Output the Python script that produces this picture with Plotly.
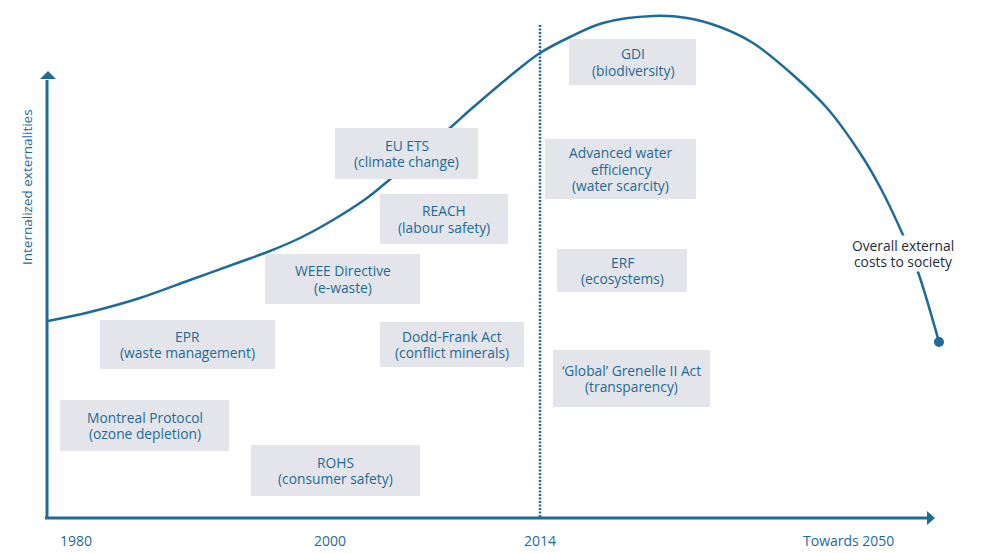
import plotly.graph_objects as go

# conceptual chart drawn on a 1000 x 553 canvas (y grows downwards)
blue = "#1d6b97"
box_fill = "#e4e5ea"
dark = "#1c2b3c"

# curve of overall external costs (x, y)
curve_x = [48, 90, 140, 190, 240, 270, 300, 333, 367, 388, 450, 470, 520, 540, 570, 603, 653,
           687, 720, 753, 793, 827, 860, 880, 903, 918, 939]
curve_y = [321, 312, 298, 280, 262, 251, 238, 220, 198, 181, 128, 110, 68, 53, 37, 23, 16,
           18, 27, 43, 75, 108, 153, 187, 235, 272, 342]

# policy boxes
box_text = [
    "Montreal Protocol<br>(ozone depletion)",
    "EPR<br>(waste management)",
    "ROHS<br>(consumer safety)",
    "WEEE Directive<br>(e-waste)",
    "Dodd-Frank Act<br>(conflict minerals)",
    "REACH<br>(labour safety)",
    "EU ETS<br>(climate change)",
    "GDI<br>(biodiversity)",
    "Advanced water<br>efficiency<br>(water scarcity)",
    "ERF<br>(ecosystems)",
    "\u2018Global\u2019 Grenelle II Act<br>(transparency)",
]
box_x0 = [60, 100, 251, 265, 380, 380, 335, 569, 545, 557, 553]
box_x1 = [229, 275, 420, 420, 524, 508, 478, 696, 696, 687, 710]
box_y0 = [400, 320, 445, 254, 322, 194, 128, 39, 139, 249, 350]
box_y1 = [451, 369, 496, 304, 367, 244, 179, 85, 199, 292, 407]

# x axis labels
tick_text = ["1980", "2000", "2014", "Towards 2050"]
tick_x = [76, 330, 540, 848]

fig = go.Figure()

fig.add_trace(go.Scatter(x=curve_x, y=curve_y, mode="lines",
                         line=dict(color=blue, width=2.5, shape="spline", smoothing=1.0),
                         hoverinfo="skip"))
fig.add_trace(go.Scatter(x=[curve_x[-1]], y=[curve_y[-1]], mode="markers",
                         marker=dict(color=blue, size=10), hoverinfo="skip"))

shapes = []
# axes
shapes.append(dict(type="line", x0=47, x1=47, y0=519, y1=80, line=dict(color=blue, width=3)))
shapes.append(dict(type="line", x0=45, x1=928, y0=518, y1=518, line=dict(color=blue, width=3)))
shapes.append(dict(type="path", path="M 40 79 L 56 79 L 48 71 Z", fillcolor=blue, line=dict(width=0)))
shapes.append(dict(type="path", path="M 927 511 L 927 525 L 935 518 Z", fillcolor=blue, line=dict(width=0)))
# 2014 marker
shapes.append(dict(type="line", x0=540, x1=540, y0=25, y1=517,
                   line=dict(color=blue, width=2.5, dash="2px,1.5px")))

for x0, x1, y0, y1 in zip(box_x0, box_x1, box_y0, box_y1):
    shapes.append(dict(type="rect", x0=x0, x1=x1, y0=y0, y1=y1, layer="above",
                       fillcolor=box_fill, line=dict(width=0)))

annotations = []
line_gap = 16.5
for t, x0, x1, y0, y1 in zip(box_text, box_x0, box_x1, box_y0, box_y1):
    lines = t.split("<br>")
    n = len(lines)
    for i, ln in enumerate(lines):
        annotations.append(dict(x=(x0 + x1) / 2, y=(y0 + y1) / 2 + (i - (n - 1) / 2) * line_gap,
                                text=ln, showarrow=False,
                                font=dict(family="Open Sans", size=13.8, color=blue)))

for t, x in zip(tick_text, tick_x):
    annotations.append(dict(x=x, y=540, text=t, showarrow=False,
                            font=dict(family="Open Sans", size=14, color=blue)))

annotations.append(dict(x=27, y=187, text="Internalized externalities", textangle=-90, showarrow=False,
                        font=dict(family="Open Sans", size=13.5, color=blue)))
for i, ln in enumerate(["Overall external", "costs to society"]):
    annotations.append(dict(x=903, y=245 + i * line_gap, text=ln, showarrow=False,
                            bgcolor="white", borderpad=0,
                            font=dict(family="Open Sans", size=13.8, color=dark)))

# the page body adds an 8px offset, so the ranges are shifted to keep the canvas aligned
fig.update_layout(
    width=1000, height=553,
    margin=dict(l=0, r=0, t=0, b=0),
    plot_bgcolor="white", paper_bgcolor="white",
    showlegend=False,
    shapes=shapes, annotations=annotations,
    xaxis=dict(range=[8, 1008], visible=False, fixedrange=True),
    yaxis=dict(range=[561, 8], visible=False, fixedrange=True),
)

fig.write_html("out.html")
